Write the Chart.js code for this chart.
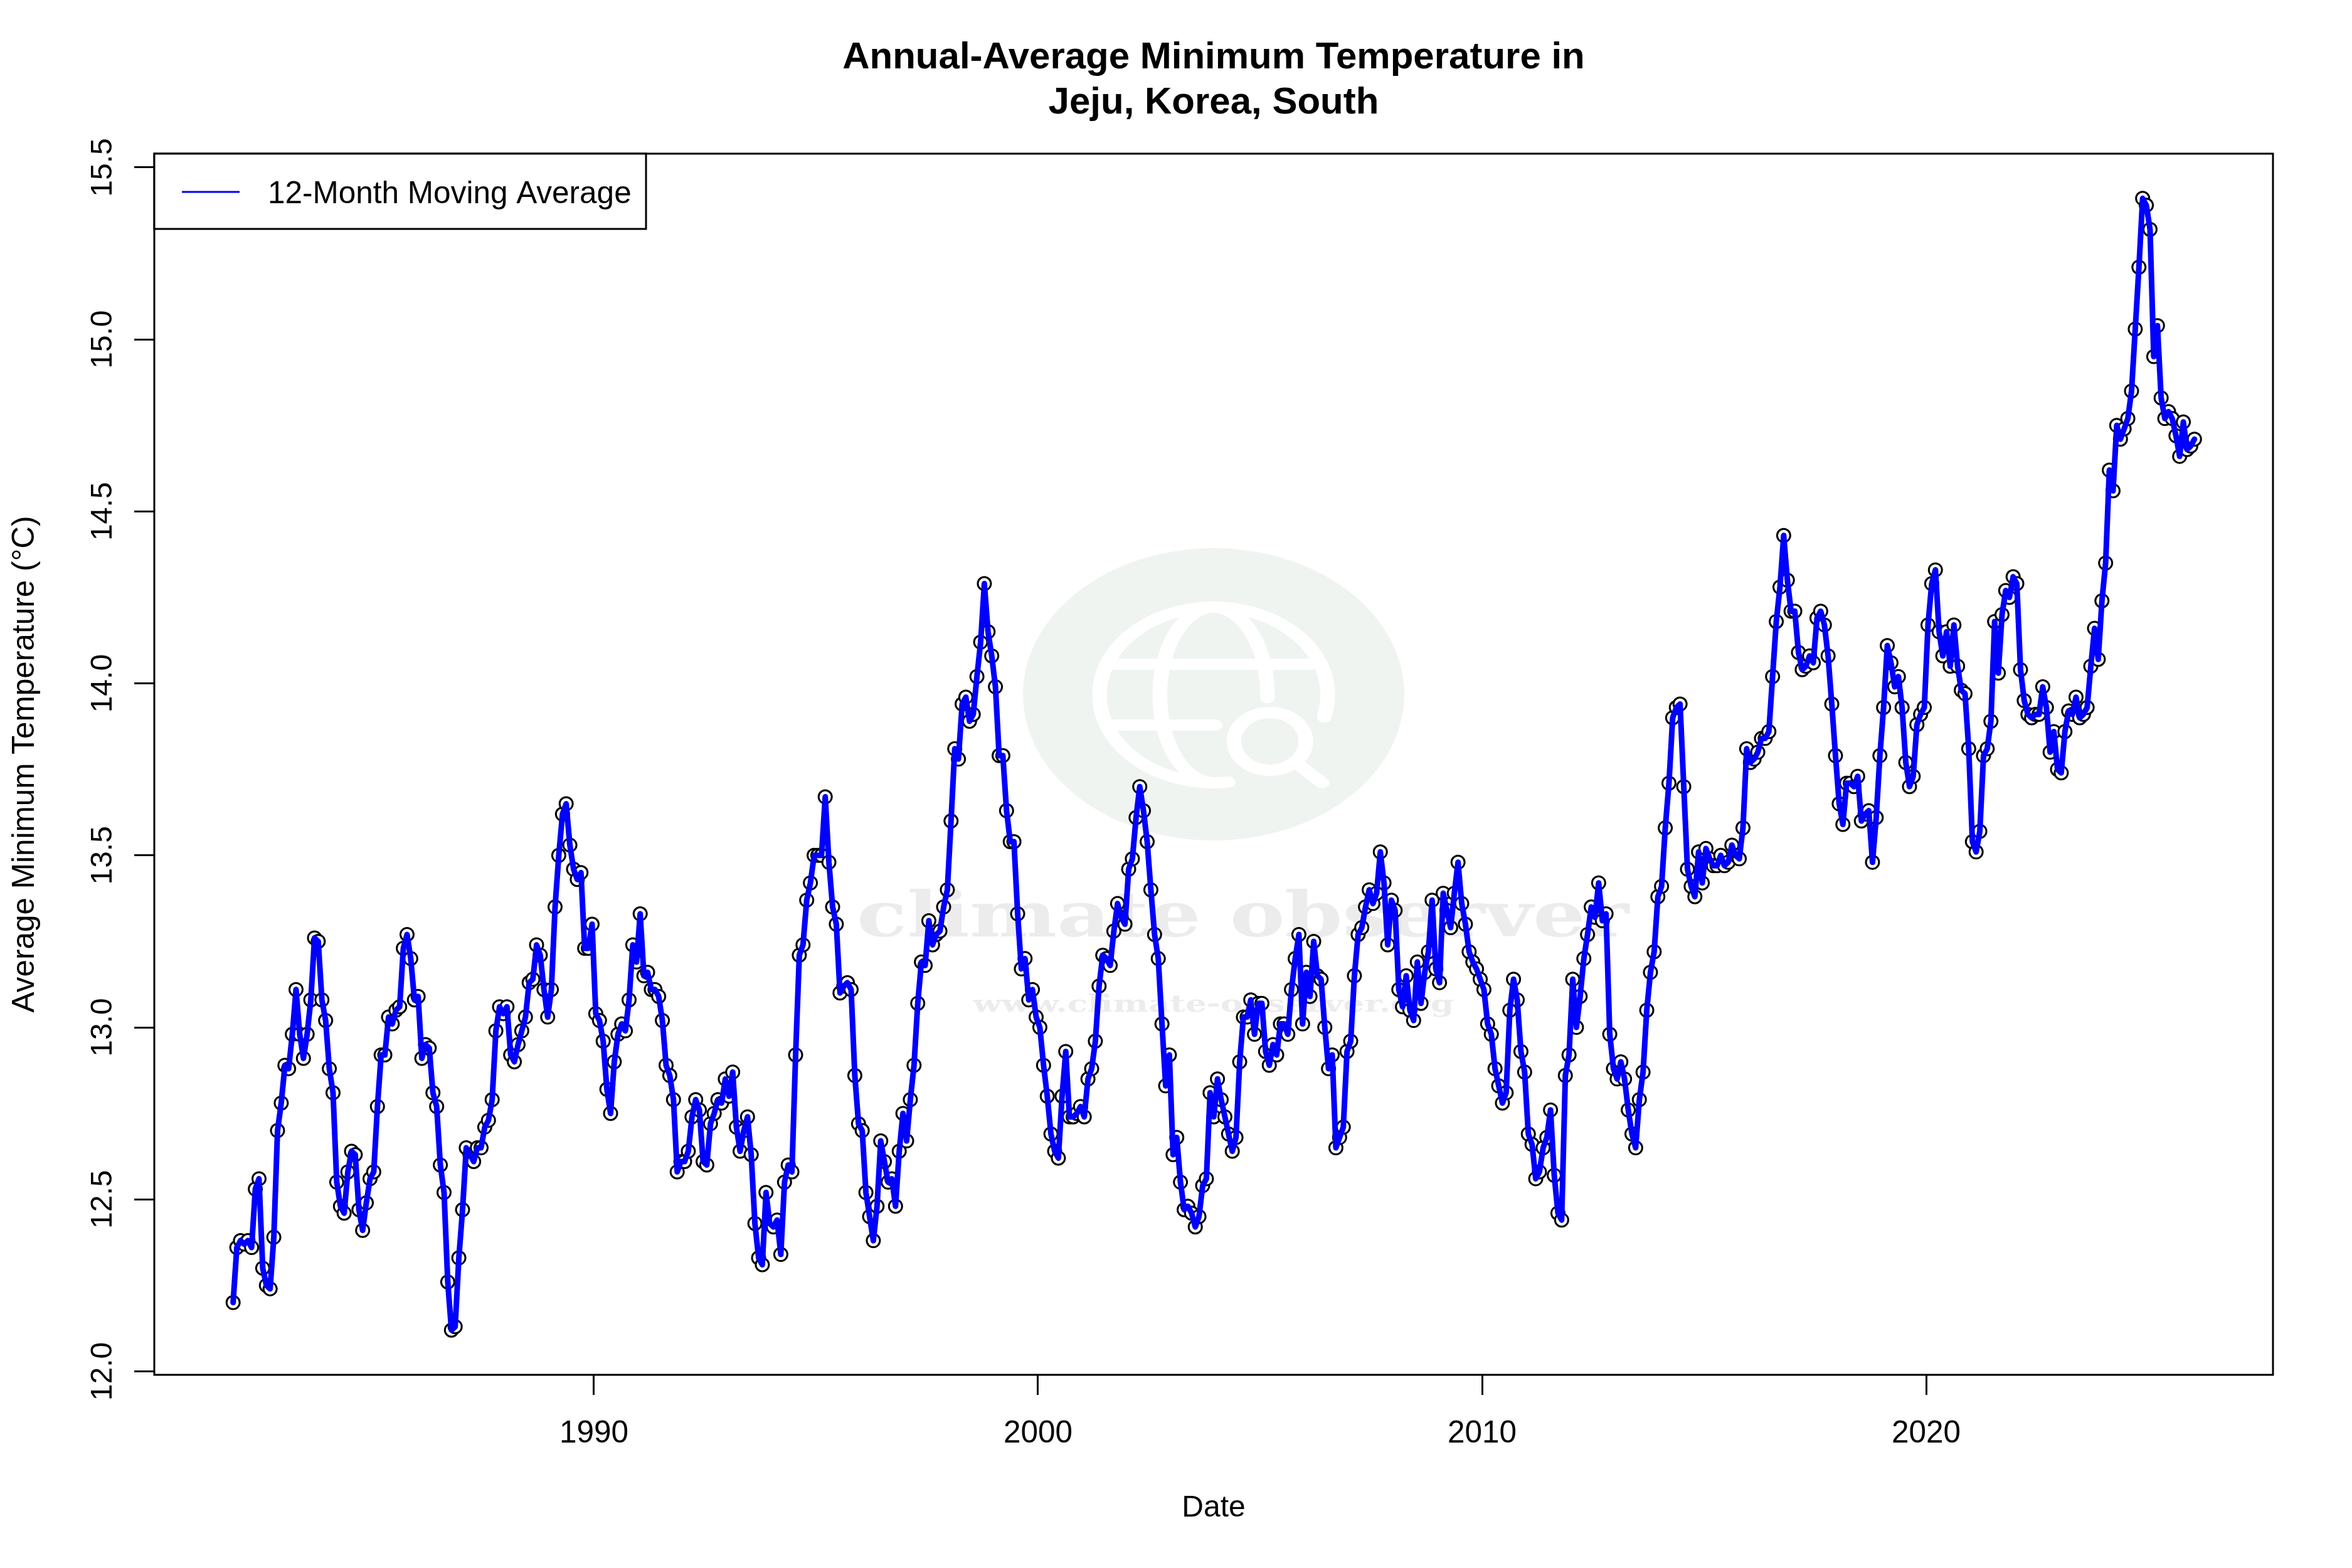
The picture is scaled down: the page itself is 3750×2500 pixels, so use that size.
<!DOCTYPE html>
<html>
<head>
<meta charset="utf-8">
<title>Annual-Average Minimum Temperature in Jeju, Korea, South</title>
<script src="https://cdn.jsdelivr.net/npm/chart.js@4"></script>
<style>
  html, body { margin: 0; padding: 0; background: #fff; }
  canvas { display: block; }
</style>
</head>
<body>
<canvas id="chart" width="3750" height="2500"></canvas>
<script>
const titleLines = ['Annual-Average Minimum Temperature in', 'Jeju, Korea, South'];
const xLabel = 'Date';
const yLabel = 'Average Minimum Temperature (°C)';
const seriesName = '12-Month Moving Average';
const watermarkName = 'climate observer';
const watermarkUrl = 'www.climate-observer.org';
const xTicks = [1990, 2000, 2010, 2020];
const yTicks = [12, 12.5, 13, 13.5, 14, 14.5, 15, 15.5];

// monthly values, first point is late 1981
const firstMonth = 1981.875;
const values = [
  12.20, 12.36, 12.38, 12.37, 12.38, 12.36, 12.53, 12.56, 12.30, 12.25, 12.24, 12.39,
  12.70, 12.78, 12.89, 12.88, 12.98, 13.11, 12.98, 12.91, 12.98, 13.08, 13.26, 13.25,
  13.08, 13.02, 12.88, 12.81, 12.55, 12.48, 12.46, 12.58, 12.64, 12.63, 12.47, 12.41,
  12.49, 12.56, 12.58, 12.77, 12.92, 12.92, 13.03, 13.01, 13.05, 13.06, 13.23, 13.27,
  13.20, 13.08, 13.09, 12.91, 12.95, 12.94, 12.81, 12.77, 12.60, 12.52, 12.26, 12.12,
  12.13, 12.33, 12.47, 12.65, 12.63, 12.61, 12.65, 12.65, 12.71, 12.73, 12.79, 12.99,
  13.06, 13.04, 13.06, 12.92, 12.90, 12.95, 12.99, 13.03, 13.13, 13.14, 13.24, 13.21,
  13.11, 13.03, 13.11, 13.35, 13.50, 13.62, 13.65, 13.53, 13.46, 13.43, 13.45, 13.23,
  13.23, 13.30, 13.04, 13.02, 12.96, 12.82, 12.75, 12.90, 12.98, 13.01, 12.99, 13.08,
  13.24, 13.19, 13.33, 13.15, 13.16, 13.11, 13.11, 13.09, 13.02, 12.89, 12.86, 12.79,
  12.58, 12.61, 12.61, 12.64, 12.74, 12.79, 12.76, 12.61, 12.60, 12.72, 12.75, 12.79,
  12.78, 12.85, 12.80, 12.87, 12.71, 12.64, 12.70, 12.74, 12.63, 12.43, 12.33, 12.31,
  12.52, 12.43, 12.42, 12.44, 12.34, 12.55, 12.60, 12.58, 12.92, 13.21, 13.24, 13.37,
  13.42, 13.50, 13.50, 13.50, 13.67, 13.48, 13.35, 13.30, 13.10, 13.12, 13.13, 13.11,
  12.86, 12.72, 12.70, 12.52, 12.45, 12.38, 12.48, 12.67, 12.61, 12.55, 12.56, 12.48,
  12.64, 12.75, 12.67, 12.79, 12.89, 13.07, 13.19, 13.18, 13.31, 13.24, 13.27, 13.28,
  13.35, 13.40, 13.60, 13.81, 13.78, 13.94, 13.96, 13.89, 13.91, 14.02, 14.12, 14.29,
  14.15, 14.08, 13.99, 13.79, 13.79, 13.63, 13.54, 13.54, 13.33, 13.17, 13.20, 13.08,
  13.11, 13.03, 13.00, 12.89, 12.80, 12.69, 12.64, 12.62, 12.80, 12.93, 12.74, 12.74,
  12.75, 12.77, 12.74, 12.85, 12.88, 12.96, 13.12, 13.21, 13.20, 13.18, 13.28, 13.36,
  13.32, 13.30, 13.46, 13.49, 13.61, 13.70, 13.63, 13.54, 13.40, 13.27, 13.20, 13.01,
  12.83, 12.92, 12.63, 12.68, 12.55, 12.47, 12.48, 12.46, 12.42, 12.45, 12.54, 12.56,
  12.81, 12.74, 12.85, 12.79, 12.74, 12.69, 12.64, 12.68, 12.90, 13.03, 13.03, 13.08,
  12.98, 13.07, 13.07, 12.93, 12.89, 12.95, 12.92, 13.01, 13.01, 12.98, 13.11, 13.20,
  13.27, 13.01, 13.16, 13.09, 13.25, 13.15, 13.14, 13.00, 12.88, 12.92, 12.65, 12.68,
  12.71, 12.93, 12.96, 13.15, 13.27, 13.29, 13.35, 13.40, 13.36, 13.39, 13.51, 13.42,
  13.24, 13.37, 13.34, 13.11, 13.06, 13.15, 13.05, 13.02, 13.19, 13.07, 13.16, 13.22,
  13.37, 13.17, 13.13, 13.39, 13.34, 13.29, 13.39, 13.48, 13.36, 13.30, 13.22, 13.19,
  13.17, 13.14, 13.11, 13.01, 12.98, 12.88, 12.83, 12.78, 12.81, 13.05, 13.14, 13.08,
  12.93, 12.87, 12.69, 12.66, 12.56, 12.58, 12.65, 12.68, 12.76, 12.57, 12.46, 12.44,
  12.86, 12.92, 13.14, 13.00, 13.09, 13.20, 13.27, 13.35, 13.32, 13.42, 13.31, 13.33,
  12.98, 12.88, 12.85, 12.90, 12.85, 12.76, 12.69, 12.65, 12.79, 12.87, 13.05, 13.16,
  13.22, 13.38, 13.41, 13.58, 13.71, 13.90, 13.93, 13.94, 13.70, 13.46, 13.41, 13.38,
  13.51, 13.42, 13.52, 13.49, 13.47, 13.47, 13.50, 13.47, 13.48, 13.53, 13.50, 13.49,
  13.58, 13.81, 13.77, 13.78, 13.80, 13.84, 13.84, 13.86, 14.02, 14.18, 14.28, 14.43,
  14.30, 14.21, 14.21, 14.09, 14.04, 14.05, 14.08, 14.06, 14.19, 14.21, 14.17, 14.08,
  13.94, 13.79, 13.65, 13.59, 13.71, 13.71, 13.70, 13.73, 13.60, 13.62, 13.63, 13.48,
  13.61, 13.79, 13.93, 14.11, 14.06, 13.99, 14.02, 13.93, 13.77, 13.70, 13.73, 13.88,
  13.91, 13.93, 14.17, 14.29, 14.33, 14.15, 14.08, 14.15, 14.05, 14.17, 14.05, 13.98,
  13.97, 13.81, 13.54, 13.51, 13.57, 13.79, 13.81, 13.89, 14.18, 14.03, 14.20, 14.27,
  14.25, 14.31, 14.29, 14.04, 13.95, 13.91, 13.90, 13.91, 13.91, 13.99, 13.93, 13.80,
  13.86, 13.75, 13.74, 13.86, 13.92, 13.91, 13.96, 13.90, 13.91, 13.93, 14.05, 14.16,
  14.07, 14.24, 14.35, 14.62, 14.56, 14.75, 14.71, 14.74, 14.77, 14.85, 15.03, 15.21,
  15.41, 15.39, 15.32, 14.95, 15.04, 14.83, 14.77, 14.79, 14.77, 14.72, 14.66, 14.76,
  14.68, 14.69, 14.71
];
const points = values.map((v, i) => ({ x: firstMonth + i / 12, y: v }));

const fontFamily = '"Liberation Sans", Arial, sans-serif';

// watermark sits behind the series, drawn stretched like the original logo
const watermarkPlugin = {
  id: 'watermark',
  beforeDatasetsDraw(chart) {
    const ctx = chart.ctx;
    ctx.save();
    ctx.fillStyle = '#eff4f1';
    ctx.beginPath();
    ctx.ellipse(1935, 1107, 304, 233, 0, 0, Math.PI * 2);
    ctx.fill();

    ctx.strokeStyle = '#ffffff';
    ctx.lineCap = 'round';
    ctx.translate(1935, 1108);
    ctx.scale(1.3, 1);
    ctx.lineWidth = 18;
    // globe
    ctx.beginPath();
    ctx.ellipse(0, 0, 140, 140, 0, Math.PI * 0.08, Math.PI * 0.46, true);
    ctx.stroke();
    ctx.beginPath();
    ctx.ellipse(0, 0, 66, 140, 0, Math.PI * 0.5, Math.PI * 1.5);
    ctx.stroke();
    ctx.beginPath();
    ctx.ellipse(0, 0, 66, 140, 0, -Math.PI * 0.5, Math.PI * 0.01);
    ctx.stroke();
    ctx.beginPath();
    ctx.moveTo(-120, -49);
    ctx.lineTo(120, -49);
    ctx.moveTo(-120, 48);
    ctx.lineTo(2, 48);
    ctx.stroke();
    // magnifier
    ctx.beginPath();
    ctx.ellipse(69, 74, 44, 46, 0, 0, Math.PI * 2);
    ctx.stroke();
    ctx.beginPath();
    ctx.moveTo(105, 112);
    ctx.lineTo(133, 140);
    ctx.stroke();
    ctx.restore();

    ctx.save();
    ctx.fillStyle = '#ececec';
    ctx.textAlign = 'left';
    ctx.textBaseline = 'alphabetic';
    ctx.font = 'bold 100px "DejaVu Serif"';
    let w = ctx.measureText(watermarkName).width;
    ctx.translate(1366, 1493);
    ctx.scale(1231 / w, 1);
    ctx.fillText(watermarkName, 0, 0);
    ctx.restore();

    ctx.save();
    ctx.fillStyle = '#ececec';
    ctx.font = 'bold 38px "DejaVu Serif"';
    w = ctx.measureText(watermarkUrl).width;
    ctx.translate(1551, 1613);
    ctx.scale(767 / w, 1);
    ctx.fillText(watermarkUrl, 0, 0);
    ctx.restore();
  }
};

// title, plot frame and the legend box in the plot corner
const framePlugin = {
  id: 'frame',
  afterDraw(chart) {
    const ctx = chart.ctx;
    const a = chart.chartArea;
    ctx.save();
    ctx.strokeStyle = '#000';
    ctx.lineWidth = 3;
    ctx.strokeRect(a.left, a.top, a.right - a.left, a.bottom - a.top);

    ctx.fillStyle = '#fff';
    ctx.fillRect(a.left, a.top, 784, 120);
    ctx.strokeRect(a.left, a.top, 784, 120);
    ctx.strokeStyle = '#0000ff';
    ctx.lineWidth = 3;
    ctx.beginPath();
    ctx.moveTo(a.left + 44, a.top + 61);
    ctx.lineTo(a.left + 136, a.top + 61);
    ctx.stroke();
    ctx.fillStyle = '#000';
    ctx.font = '49.5px ' + fontFamily;
    ctx.textAlign = 'left';
    ctx.textBaseline = 'alphabetic';
    ctx.fillText(seriesName, a.left + 181, a.top + 79);

    ctx.font = 'bold 60px ' + fontFamily;
    ctx.textAlign = 'center';
    const mid = (a.left + a.right) / 2;
    ctx.fillText(titleLines[0], mid, 109);
    ctx.fillText(titleLines[1], mid, 181);
    ctx.restore();
  }
};

new Chart(document.getElementById('chart').getContext('2d'), {
  type: 'scatter',
  data: {
    datasets: [
      {
        label: seriesName,
        data: points,
        showLine: true,
        borderColor: '#0000ff',
        borderWidth: 9,
        borderJoinStyle: 'round',
        borderCapStyle: 'round',
        pointRadius: 0,
        tension: 0,
        order: 0
      },
      {
        label: 'Monthly points',
        data: points,
        showLine: false,
        pointRadius: 10.5,
        pointBorderWidth: 3,
        pointBorderColor: '#000',
        pointBackgroundColor: '#fff',
        order: 1
      }
    ]
  },
  options: {
    responsive: false,
    devicePixelRatio: 1,
    animation: false,
    layout: { padding: { top: 245, right: 126, left: 0, bottom: 0 } },
    plugins: {
      legend: { display: false },
      title: { display: false },
      tooltip: { enabled: false }
    },
    scales: {
      x: {
        type: 'linear',
        min: 1980.1,
        max: 2027.81,
        afterFit(scale) { scale.height = 308; },
        afterBuildTicks(scale) { scale.ticks = xTicks.map(v => ({ value: v })); },
        border: { display: false },
        grid: { drawOnChartArea: false, drawTicks: true, tickLength: 32, tickWidth: 3, tickColor: '#000' },
        ticks: {
          color: '#000',
          font: { family: fontFamily, size: 49.5 },
          padding: 33,
          maxRotation: 0,
          autoSkip: false,
          includeBounds: false,
          callback: v => String(v)
        },
        title: {
          display: true,
          text: xLabel,
          color: '#000',
          font: { family: fontFamily, size: 48 },
          padding: { top: 0, bottom: 66 }
        }
      },
      y: {
        type: 'linear',
        min: 11.99,
        max: 15.54,
        afterFit(scale) { scale.width = 246; },
        afterBuildTicks(scale) { scale.ticks = yTicks.map(v => ({ value: v })); },
        border: { display: false },
        grid: { drawOnChartArea: false, drawTicks: true, tickLength: 32, tickWidth: 3, tickColor: '#000' },
        ticks: {
          color: '#000',
          font: { family: fontFamily, size: 48 },
          padding: 3,
          minRotation: 90,
          maxRotation: 90,
          crossAlign: 'center',
          autoSkip: false,
          includeBounds: false,
          callback: v => v.toFixed(1)
        },
        title: {
          display: true,
          text: yLabel,
          color: '#000',
          font: { family: fontFamily, size: 49.5 },
          padding: { top: 11, bottom: 0 }
        }
      }
    }
  },
  plugins: [watermarkPlugin, framePlugin]
});
</script>
</body>
</html>
